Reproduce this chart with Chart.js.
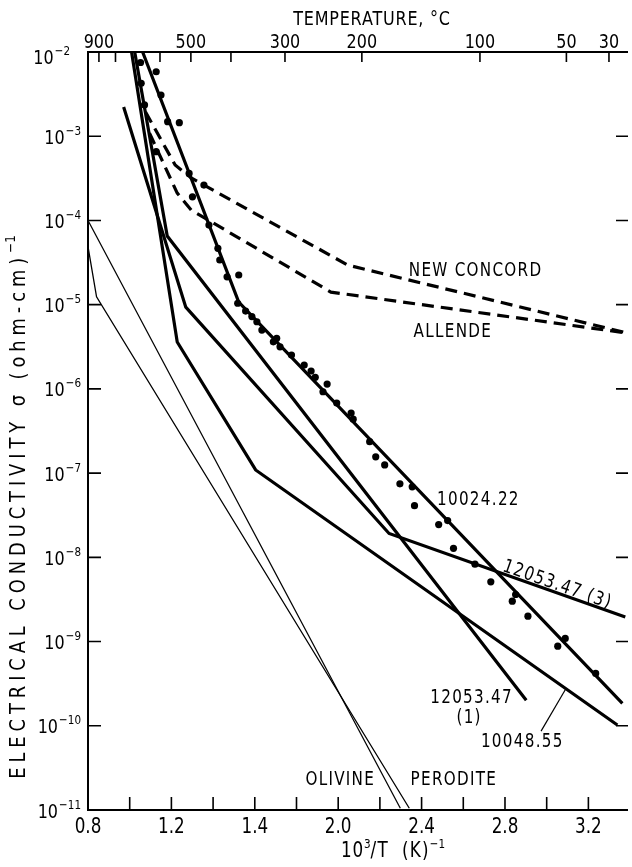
<!DOCTYPE html>
<html>
<head>
<meta charset="utf-8">
<title>Electrical conductivity vs 1000/T</title>
<script src="https://cdn.jsdelivr.net/npm/chart.js@4.4.1/dist/chart.umd.min.js"></script>
<style>
  html, body { margin: 0; padding: 0; background: #ffffff; }
  canvas { display: block; }
</style>
</head>
<body>
<canvas id="chart" width="632" height="867"></canvas>
<script>
// ---- axis ticks ----
const xMinorTicks = [1.0, 1.2, 1.4, 1.6, 1.8, 2.0, 2.2, 2.4, 2.6, 2.8, 3.0, 3.2];
const xLabelValues = [0.8, 1.2, 1.6, 2.0, 2.4, 2.8, 3.2];
const xLabelTexts = ['0.8', '1.2', '1.4', '2.0', '2.4', '2.8', '3.2'];
const tempTickC = [900, 800, 600, 500, 400, 300, 200, 100, 50, 30];
const tempLabelC = [900, 500, 300, 200, 100, 50, 30];
const decadeExponents = [-2, -3, -4, -5, -6, -7, -8, -9, -10, -11];

// ---- series: x = 10^3/T (K^-1), y = sigma (ohm-cm)^-1 ----
const s10024_x = [1.062, 1.523, 3.363];
const s10024_y = [1.0e-2, 1.07e-5, 1.85e-10];

const s12053_3_x = [0.971, 1.269, 2.244, 3.377];
const s12053_3_y = [2.22e-3, 9.35e-6, 1.92e-8, 1.96e-9];

const s12053_1_x = [1.024, 1.180, 2.902];
const s12053_1_y = [1.0e-2, 6.53e-5, 2.01e-10];

const s10048_x = [1.009, 1.228, 1.604, 3.339];
const s10048_y = [1.0e-2, 3.6e-6, 1.09e-7, 1.02e-10];

const newConcord_x = [1.076, 1.218, 1.295, 2.046, 3.387];
const newConcord_y = [1.94e-3, 4.55e-4, 3.19e-4, 2.95e-5, 4.6e-6];

const allende_x = [1.095, 1.228, 1.295, 1.965, 3.387];
const allende_y = [1.09e-3, 2.11e-4, 1.33e-4, 1.41e-5, 4.6e-6];

const olivine_x = [0.8, 2.298];
const olivine_y = [1.0e-4, 1.05e-11];

const perodite_x = [0.8, 0.841, 2.341];
const perodite_y = [4.88e-5, 1.24e-5, 1.05e-11];

// measured points for 10024.22
const dots_x = [1.052, 1.127, 1.055, 1.150, 1.071, 1.182, 1.238, 1.127, 1.285, 1.356,
                1.301, 1.380, 1.423, 1.432, 1.467, 1.523, 1.518, 1.556, 1.586, 1.610,
                1.634, 1.705, 1.689, 1.721, 1.776, 1.837, 1.870, 1.890, 1.947, 1.927,
                1.993, 2.062, 2.072, 2.151, 2.180, 2.223, 2.296, 2.355, 2.366, 2.482,
                2.525, 2.553, 2.656, 2.732, 2.851, 2.835, 2.910, 3.089, 3.053, 3.235];
const dots_y = [7.50e-3, 5.83e-3, 4.25e-3, 3.08e-3, 2.35e-3, 1.49e-3, 1.45e-3, 6.55e-4, 3.62e-4, 2.63e-4,
                1.91e-4, 8.81e-5, 4.67e-5, 3.39e-5, 2.14e-5, 2.25e-5, 1.04e-5, 8.40e-6, 7.23e-6, 6.27e-6,
                4.99e-6, 3.98e-6, 3.62e-6, 3.16e-6, 2.52e-6, 1.92e-6, 1.63e-6, 1.37e-6, 1.14e-6, 9.25e-7,
                6.78e-7, 5.16e-7, 4.37e-7, 2.36e-7, 1.56e-7, 1.25e-7, 7.46e-8, 6.87e-8, 4.11e-8, 2.45e-8,
                2.73e-8, 1.28e-8, 8.30e-9, 5.12e-9, 3.62e-9, 3.02e-9, 2.00e-9, 1.09e-9, 8.81e-10, 4.18e-10];

// ---- curve labels, anchored in data units ----
const curveLabels = [
  { text: 'NEW CONCORD', x: 2.659, y: 2.65e-5, align: 'center' },
  { text: 'ALLENDE', x: 2.550, y: 5.06e-6, align: 'center' },
  { text: '10024.22', x: 2.474, y: 5.05e-8, align: 'left' },
  { text: '12053.47', x: 2.640, y: 2.25e-10, align: 'center' },
  { text: '(1)', x: 2.628, y: 1.30e-10, align: 'center' },
  { text: '10048.55', x: 2.883, y: 6.75e-11, align: 'center' },
  { text: 'OLIVINE', x: 2.010, y: 2.42e-11, align: 'center' },
  { text: 'PERODITE', x: 2.555, y: 2.42e-11, align: 'center' }
];
const slopedLabel = { text: '12053.47 (3)', x: 3.054, y: 4.94e-9 };
const leaderFrom = { x: 2.973, y: 8.63e-11 };
const leaderToX = 3.092;

const FONT = '"DejaVu Sans", "Liberation Sans", sans-serif';
const SX = 0.8;

function pts(xs, ys) { return xs.map((x, i) => ({ x: x, y: ys[i] })); }

function logInterp(xs, ys, x) {
  for (let i = 0; i < xs.length - 1; i++) {
    if (x >= xs[i] && x <= xs[i + 1]) {
      const t = (x - xs[i]) / (xs[i + 1] - xs[i]);
      return Math.pow(10, Math.log10(ys[i]) + t * (Math.log10(ys[i + 1]) - Math.log10(ys[i])));
    }
  }
  return ys[ys.length - 1];
}

// draws a row of text runs (used for superscripts); sx squeezes glyphs horizontally
function drawRuns(ctx, parts, px, py, align, sx) {
  const k = sx || SX;
  ctx.save();
  const widths = parts.map(p => {
    ctx.font = p.size + 'px ' + FONT;
    ctx.letterSpacing = (p.ls || 0) + 'px';
    return ctx.measureText(p.t).width * k;
  });
  const total = widths.reduce((a, b) => a + b, 0);
  let x0 = align === 'right' ? px - total : (align === 'center' ? px - total / 2 : px);
  parts.forEach((p, i) => {
    ctx.save();
    ctx.translate(x0, py + (p.dy || 0));
    ctx.scale(k, 1);
    ctx.font = p.size + 'px ' + FONT;
    ctx.letterSpacing = (p.ls || 0) + 'px';
    ctx.textAlign = 'left';
    ctx.textBaseline = 'alphabetic';
    ctx.fillStyle = '#000';
    ctx.fillText(p.t, 0, 0);
    ctx.restore();
    x0 += widths[i];
  });
  ctx.restore();
}

const axesPlugin = {
  id: 'axesFrame',
  afterDatasetsDraw(chart) {
    const ctx = chart.ctx;
    const a = chart.chartArea;
    const xs = chart.scales.x, ys = chart.scales.y;
    ctx.save();
    ctx.strokeStyle = '#000';
    ctx.lineCap = 'butt';

    // frame: top, left, bottom
    ctx.lineWidth = 2;
    ctx.beginPath();
    ctx.moveTo(a.right, a.top); ctx.lineTo(a.left, a.top);
    ctx.lineTo(a.left, a.bottom); ctx.lineTo(a.right, a.bottom);
    ctx.stroke();

    // inward ticks
    ctx.lineWidth = 1.6;
    ctx.beginPath();
    decadeExponents.forEach(e => {
      const py = ys.getPixelForValue(Math.pow(10, e));
      ctx.moveTo(a.left, py); ctx.lineTo(a.left + 13, py);
      ctx.moveTo(a.right, py); ctx.lineTo(a.right - 12, py);
    });
    xMinorTicks.forEach(v => {
      const px = xs.getPixelForValue(v);
      ctx.moveTo(px, a.bottom); ctx.lineTo(px, a.bottom - 13);
    });
    tempTickC.forEach(t => {
      const px = xs.getPixelForValue(1000 / (t + 273.15));
      ctx.moveTo(px, a.top); ctx.lineTo(px, a.top + 10);
    });
    ctx.stroke();

    // y tick labels 10^n
    decadeExponents.forEach((e, i) => {
      const py = ys.getPixelForValue(Math.pow(10, e));
      const first = i === 0;
      const right = first ? a.left - 18 : a.left - 7;
      const base = py + 7.5 + (first ? 4 : 0);
      drawRuns(ctx, [
        { t: '10', size: 20 },
        { t: ' ', size: 4 },
        { t: '\u2212' + Math.abs(e), size: 13, dy: -9 }
      ], right, base, 'right');
    });

    // bottom tick labels
    xLabelValues.forEach((v, i) => {
      drawRuns(ctx, [{ t: xLabelTexts[i], size: 21 }], xs.getPixelForValue(v), a.bottom + 23, 'center');
    });

    // top temperature labels
    tempLabelC.forEach(t => {
      drawRuns(ctx, [{ t: String(t), size: 20 }], xs.getPixelForValue(1000 / (t + 273.15)), a.top - 4, 'center');
    });

    // axis titles
    drawRuns(ctx, [{ t: 'TEMPERATURE, \u00B0C', size: 20, ls: 1 }], 372, 25, 'center');
    drawRuns(ctx, [
      { t: '10', size: 21, ls: 1 },
      { t: '3', size: 13, dy: -9 },
      { t: '/T  (K)', size: 21, ls: 1.5 },
      { t: '\u2212' + '1', size: 13, dy: -9 }
    ], 393, 857, 'center');

    ctx.save();
    ctx.translate(25, 507);
    ctx.rotate(-Math.PI / 2);
    drawRuns(ctx, [
      { t: 'ELECTRICAL CONDUCTIVITY \u03C3 (ohm-cm)', size: 21, ls: 5.8 },
      { t: '\u2212' + '1', size: 14, dy: -10 }
    ], 0, 0, 'center', 0.85);
    ctx.restore();

    // curve labels
    curveLabels.forEach(l => {
      const px = xs.getPixelForValue(l.x), py = ys.getPixelForValue(l.y);
      drawRuns(ctx, [{ t: l.text, size: 19, ls: 1.6 }], px, py + 7, l.align);
    });

    // sloped label along the 12053.47 (3) tail
    const n = s12053_3_x.length;
    const p1x = xs.getPixelForValue(s12053_3_x[n - 2]), p1y = ys.getPixelForValue(s12053_3_y[n - 2]);
    const p2x = xs.getPixelForValue(s12053_3_x[n - 1]), p2y = ys.getPixelForValue(s12053_3_y[n - 1]);
    const ang = Math.atan2(p2y - p1y, p2x - p1x);
    ctx.save();
    ctx.translate(xs.getPixelForValue(slopedLabel.x), ys.getPixelForValue(slopedLabel.y));
    ctx.rotate(ang);
    drawRuns(ctx, [{ t: slopedLabel.text, size: 19, ls: 1.6 }], 0, 7, 'center');
    ctx.restore();

    // leader line from the 10048.55 label to its curve
    ctx.lineWidth = 1.2;
    ctx.beginPath();
    ctx.moveTo(xs.getPixelForValue(leaderFrom.x), ys.getPixelForValue(leaderFrom.y));
    ctx.lineTo(xs.getPixelForValue(leaderToX), ys.getPixelForValue(logInterp(s10048_x, s10048_y, leaderToX)));
    ctx.stroke();

    ctx.restore();
  }
};

const thick = { showLine: true, pointRadius: 0, borderColor: '#000', borderWidth: 3.2, fill: false, tension: 0 };

new Chart(document.getElementById('chart'), {
  type: 'scatter',
  data: {
    datasets: [
      { label: '10024.22 data', data: pts(dots_x, dots_y), showLine: false, pointRadius: 3.6,
        pointBackgroundColor: '#000', pointBorderWidth: 0, pointStyle: 'circle' },
      Object.assign({ label: '10024.22', data: pts(s10024_x, s10024_y) }, thick),
      Object.assign({ label: '12053.47 (3)', data: pts(s12053_3_x, s12053_3_y) }, thick),
      Object.assign({ label: '12053.47 (1)', data: pts(s12053_1_x, s12053_1_y) }, thick),
      Object.assign({ label: '10048.55', data: pts(s10048_x, s10048_y) }, thick),
      Object.assign({ label: 'New Concord', data: pts(newConcord_x, newConcord_y), borderDash: [12, 7] }, thick),
      Object.assign({ label: 'Allende', data: pts(allende_x, allende_y), borderDash: [12, 7] }, thick),
      { label: 'Olivine', data: pts(olivine_x, olivine_y), showLine: true, pointRadius: 0,
        borderColor: '#000', borderWidth: 1.3, tension: 0 },
      { label: 'Perodite', data: pts(perodite_x, perodite_y), showLine: true, pointRadius: 0,
        borderColor: '#000', borderWidth: 1.3, tension: 0 }
    ]
  },
  options: {
    responsive: false,
    animation: false,
    devicePixelRatio: 1,
    layout: { padding: { left: 88, top: 52, right: 0, bottom: 57 } },
    plugins: { legend: { display: false }, tooltip: { enabled: false } },
    scales: {
      x: { type: 'linear', min: 0.8, max: 3.39, display: false },
      y: { type: 'logarithmic', min: 1e-11, max: 1e-2, display: false }
    }
  },
  plugins: [axesPlugin]
});
</script>
</body>
</html>
